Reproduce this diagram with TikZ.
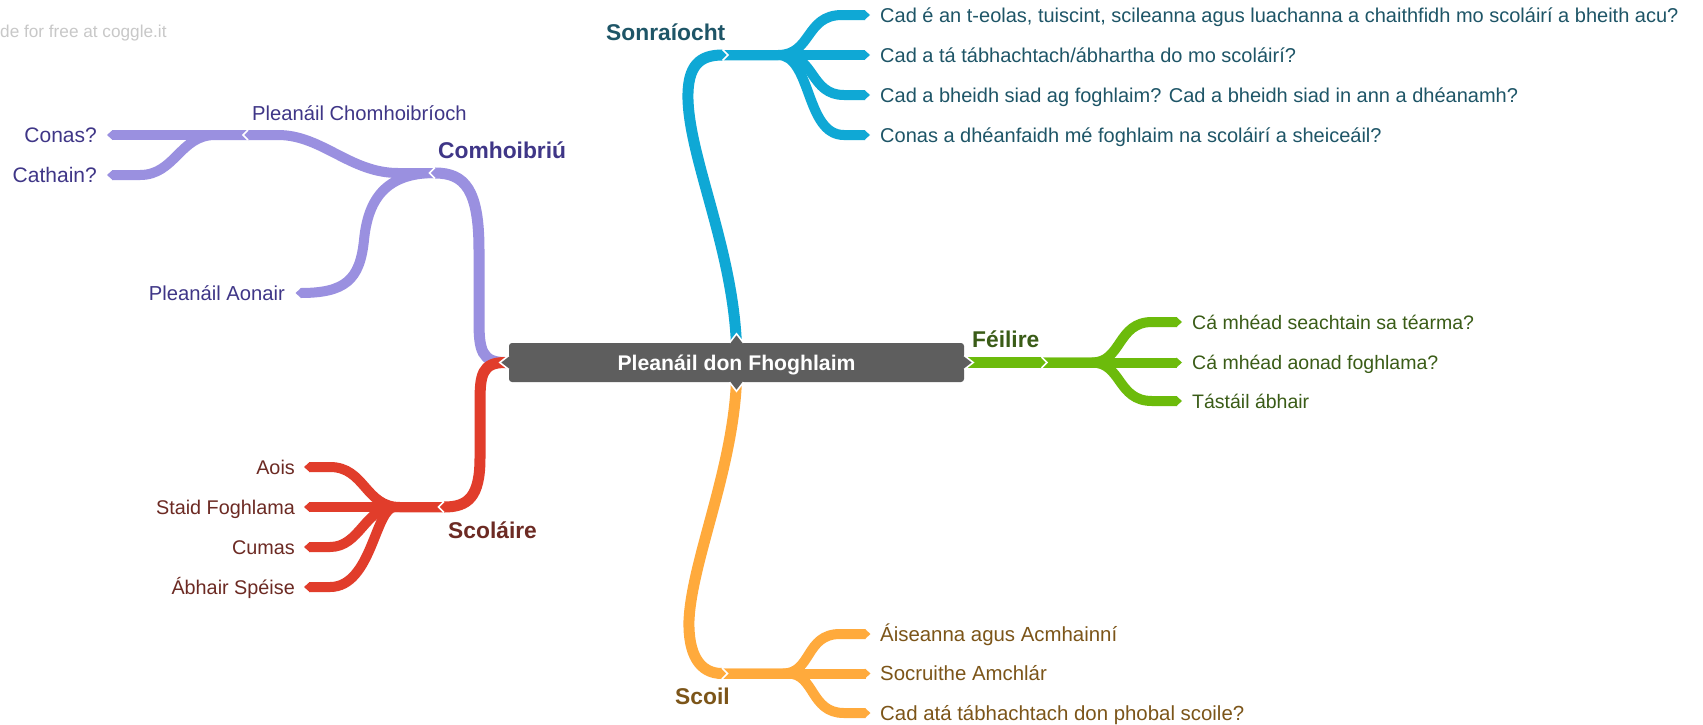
\documentclass[tikz,border=0pt]{standalone}
\usepackage{fontspec}
\setmainfont{Liberation Sans}
\definecolor{bluel}{HTML}{0FA8D5}
\definecolor{bluet}{HTML}{1E5567}
\definecolor{greenl}{HTML}{6CBB0B}
\definecolor{greent}{HTML}{3A5C17}
\definecolor{orangel}{HTML}{FFAA3C}
\definecolor{oranget}{HTML}{7C5519}
\definecolor{purplel}{HTML}{9A90E0}
\definecolor{purplet}{HTML}{3F3687}
\definecolor{redl}{HTML}{E13D2B}
\definecolor{redt}{HTML}{6C2A23}
\definecolor{rootgray}{HTML}{5E5E5E}
\definecolor{wm}{HTML}{C8C8C8}
\newcommand\tipR[3]{\fill[#1] (#2) ++(-0.6,-#3) -- ++(#3+0.6,#3) -- ++(-#3-0.6,#3) -- cycle;}
\newcommand\tipL[3]{\fill[#1] (#2) ++(0.6,-#3) -- ++(-#3-0.6,#3) -- ++(#3+0.6,#3) -- cycle;}
\newcommand\chevR[2]{\draw[white,line width=1.6pt] (#1) ++(0,-#2) -- ++(#2,#2) -- ++(-#2,#2);}
\newcommand\chevL[2]{\draw[white,line width=1.6pt] (#1) ++(0,-#2) -- ++(-#2,#2) -- ++(#2,#2);}
\tikzset{
  trunk/.style={line width=11pt, line cap=butt},
  twig/.style={line width=10pt, line cap=butt},
  leaf/.style={inner sep=0pt, text height=14pt, text depth=0pt, font=\fontsize{19.5}{22}\selectfont},
  leafb/.style={inner sep=0pt, text height=14.3pt, text depth=0pt, font=\fontsize{20}{23}\selectfont},
  leafm/.style={inner sep=0pt, text height=14.4pt, text depth=0pt, font=\fontsize{20.2}{23}\selectfont},
  leafo/.style={inner sep=0pt, text height=14.5pt, text depth=0pt, font=\fontsize{20.4}{23}\selectfont},
  leafr/.style={inner sep=0pt, text height=14.2pt, text depth=0pt, font=\fontsize{19.8}{23}\selectfont},
  leafq/.style={inner sep=0pt, text height=15pt, text depth=0pt, font=\fontsize{21}{24}\selectfont},
  lab/.style={inner sep=0pt, anchor=base west, font=\fontsize{22.8}{26}\selectfont\bfseries},
  rootbox/.style={rounded corners=3pt, fill=rootgray, minimum width=455pt, minimum height=39pt,
    inner sep=0pt, text=white, text height=15pt, text depth=0pt, font=\fontsize{21.2}{24}\selectfont\bfseries},
  wline/.style={white, line width=1.6pt}
}
\begin{document}
\begin{tikzpicture}[x=1pt,y=-1pt]
\useasboundingbox (0,0) rectangle (1703,724);
\fill[white] (0,0) rectangle (1703,724);

% coordinates
\coordinate (bS) at (736.5,346);
\coordinate (bH) at (722.5,55);
\coordinate (b1) at (865,15);
\coordinate (b2) at (865,55);
\coordinate (b3) at (865,95);
\coordinate (b4) at (865,135);
\coordinate (gS) at (962,362.5);
\coordinate (gH) at (1041.5,362.5);
\coordinate (g1) at (1177,322);
\coordinate (g2) at (1177,362.5);
\coordinate (g3) at (1177,401);
\coordinate (oS) at (736.5,380);
\coordinate (oH) at (722,673.5);
\coordinate (o1) at (865.5,634);
\coordinate (o2) at (865.5,673.5);
\coordinate (o3) at (865.5,713);
\coordinate (pS) at (511,362.5);
\coordinate (pH) at (435,173);
\coordinate (pcH) at (248,135);
\coordinate (pc1) at (112,135);
\coordinate (pc2) at (112,175);
\coordinate (pa) at (300.5,293);
\coordinate (rS) at (511,362.5);
\coordinate (rH) at (444,507);
\coordinate (r1) at (309,467);
\coordinate (r2) at (309,507);
\coordinate (r3) at (309,547);
\coordinate (r4) at (309,587);

% blue
\draw[twig,bluel] (bH) -- (778,55) .. controls (812,55) and (805,15) .. (842,15) -- (b1);
\draw[twig,bluel] (bH) -- (b2);
\draw[twig,bluel] (bH) -- (783,55) .. controls (815,55) and (810,95) .. (844,95) -- (b3);
\draw[twig,bluel] (bH) -- (778,55) .. controls (812,55) and (805,135) .. (844,135) -- (b4);
\draw[trunk,bluel] (bS) .. controls (733,250) and (690,160) .. (688,100) .. controls (687,65) and (700,55) .. (bH);
\tipR{bluel}{b1}{5}\tipR{bluel}{b2}{5}\tipR{bluel}{b3}{5}\tipR{bluel}{b4}{5}
\tipR{bluel}{bH}{5.5}\chevR{bH}{5.5}

% green
\draw[twig,greenl] (gH) -- (1092,362.5) .. controls (1122,362.5) and (1117,322) .. (1152,322) -- (g1);
\draw[twig,greenl] (gH) -- (g2);
\draw[twig,greenl] (gH) -- (1092,362.5) .. controls (1122,362.5) and (1117,401) .. (1152,401) -- (g3);
\draw[trunk,greenl] (gS) -- (gH);
\tipR{greenl}{g1}{5}\tipR{greenl}{g2}{5}\tipR{greenl}{g3}{5}
\tipR{greenl}{gH}{5.5}\chevR{gH}{5.5}

% orange
\draw[twig,orangel] (oH) -- (783,673.5) .. controls (812,673.5) and (805,634) .. (840,634) -- (o1);
\draw[twig,orangel] (oH) -- (o2);
\draw[twig,orangel] (oH) -- (788,673.5) .. controls (815,673.5) and (810,713) .. (844,713) -- (o3);
\draw[trunk,orangel] (oS) .. controls (733,470) and (692,560) .. (689,620) .. controls (688,655) and (700,673.5) .. (oH);
\tipR{orangel}{o1}{5}\tipR{orangel}{o2}{5}\tipR{orangel}{o3}{5}
\tipR{orangel}{oH}{5.5}\chevR{oH}{5.5}

% purple
\draw[twig,purplel] (pcH) -- (pc1);
\draw[twig,purplel] (pcH) -- (215,135) .. controls (180,135) and (175,175) .. (140,175) -- (pc2);
\draw[twig,purplel] (pH) -- (398,173) .. controls (350,173) and (322,135) .. (278,135) -- (pcH);
\draw[twig,purplel] (pH) .. controls (385,173) and (368,200) .. (364,240) .. controls (360,280) and (345,293) .. (pa);
\draw[trunk,purplel] (pS) -- (505,362.5) .. controls (482,362.5) and (479,350) .. (479,322) -- (479,250) .. controls (479,190) and (465,173) .. (pH);
\tipL{purplel}{pc1}{5}\tipL{purplel}{pc2}{5}\tipL{purplel}{pa}{5}
\tipL{purplel}{pcH}{5}\chevL{pcH}{5}
\tipL{purplel}{pH}{5.5}\chevL{pH}{5.5}

% red
\draw[twig,redl] (rH) -- (400,507) .. controls (365,507) and (365,467) .. (330,467) -- (r1);
\draw[twig,redl] (rH) -- (r2);
\draw[twig,redl] (rH) -- (395,507) .. controls (365,507) and (360,547) .. (330,547) -- (r3);
\draw[twig,redl] (rH) -- (395,507) .. controls (375,507) and (372,587) .. (330,587) -- (r4);
\draw[trunk,redl] (rS) -- (505,362.5) .. controls (482,362.5) and (480,375) .. (480,402) -- (480,458) .. controls (480,497) and (468,507) .. (rH);
\tipL{redl}{r1}{5}\tipL{redl}{r2}{5}\tipL{redl}{r3}{5}\tipL{redl}{r4}{5}
\tipL{redl}{rH}{5.5}\chevL{rH}{5.5}

% root
\node[rootbox] (root) at (736.5,362.5) {Pleanáil don Fhoghlaim};
\fill[rootgray] (root.north) ++(-7,0.5) -- ++(7,-9.5) -- ++(7,9.5) -- cycle;
\draw[wline] (root.north) ++(-7,0) -- ++(7,-9) -- ++(7,9);
\fill[rootgray] (root.south) ++(-7,-0.5) -- ++(7,9.5) -- ++(7,-9.5) -- cycle;
\draw[wline] (root.south) ++(-7,0) -- ++(7,9) -- ++(7,-9);
\fill[rootgray] (root.west) ++(0.5,-7) -- ++(-9.5,7) -- ++(9.5,7) -- cycle;
\draw[wline] (root.west) ++(0,-7) -- ++(-9,7) -- ++(9,7);
\fill[rootgray] (root.east) ++(-0.5,-7) -- ++(9.5,7) -- ++(-9.5,7) -- cycle;
\draw[wline] (root.east) ++(0,-7) -- ++(9,7) -- ++(-9,7);

% labels
\node[lab, text=bluet] (sonr) at (606,40) {Sonraíocht};
\node[lab, text=purplet] (comh) at (438,158) {Comhoibriú};
\node[lab, text=greent] (feil) at (972,347) {Féilire};
\node[lab, text=redt] (scol) at (448,538) {Scoláire};
\node[lab, text=oranget] (scoil) at (675,704) {Scoil};

% blue leaves
\node[leafb, anchor=west, text=bluet] (b1t) at (880,15) {Cad é an t-eolas, tuiscint, scileanna agus luachanna a chaithfidh mo scoláirí a bheith acu?};
\node[leafb, anchor=west, text=bluet] (b2t) at (880,55) {Cad a tá tábhachtach/ábhartha do mo scoláirí?};
\node[leafb, anchor=west, text=bluet] (b3t) at (880,95) {Cad a bheidh siad ag foghlaim? Cad a bheidh siad in ann a dhéanamh?};
\node[leafb, anchor=west, text=bluet] (b4t) at (880,135) {Conas a dhéanfaidh mé foghlaim na scoláirí a sheiceáil?};

% green leaves
\node[leaf, anchor=west, text=greent] (g1t) at (1192,322) {Cá mhéad seachtain sa téarma?};
\node[leaf, anchor=west, text=greent] (g2t) at (1192,362.5) {Cá mhéad aonad foghlama?};
\node[leaf, anchor=west, text=greent] (g3t) at (1192,401) {Tástáil ábhair};

% orange leaves
\node[leafo, anchor=west, text=oranget] (o1t) at (880,634) {Áiseanna agus Acmhainní};
\node[leafo, anchor=west, text=oranget] (o2t) at (880,673.5) {Socruithe Amchlár};
\node[leafo, anchor=west, text=oranget] (o3t) at (880,713) {Cad atá tábhachtach don phobal scoile?};

% purple leaves
\node[leafm, anchor=base west, text=purplet] (pct) at (252,120) {Pleanáil Chomhoibríoch};
\node[leafq, anchor=east, text=purplet] (pc1t) at (97,135) {Conas?};
\node[leafq, anchor=east, text=purplet] (pc2t) at (97,175) {Cathain?};
\node[leafm, anchor=east, text=purplet] (pat) at (285,293) {Pleanáil Aonair};

% red leaves
\node[leafr, anchor=east, text=redt] (r1t) at (295,467) {Aois};
\node[leafr, anchor=east, text=redt] (r2t) at (295,507) {Staid Foghlama};
\node[leafr, anchor=east, text=redt] (r3t) at (295,547) {Cumas};
\node[leafr, anchor=east, text=redt] (r4t) at (295,587) {Ábhair Spéise};

% watermark
\node[inner sep=0pt, anchor=base west, font=\fontsize{17.2}{20}\selectfont, text=wm] (wmk) at (0,37) {de for free at coggle.it};
\end{tikzpicture}
\end{document}
